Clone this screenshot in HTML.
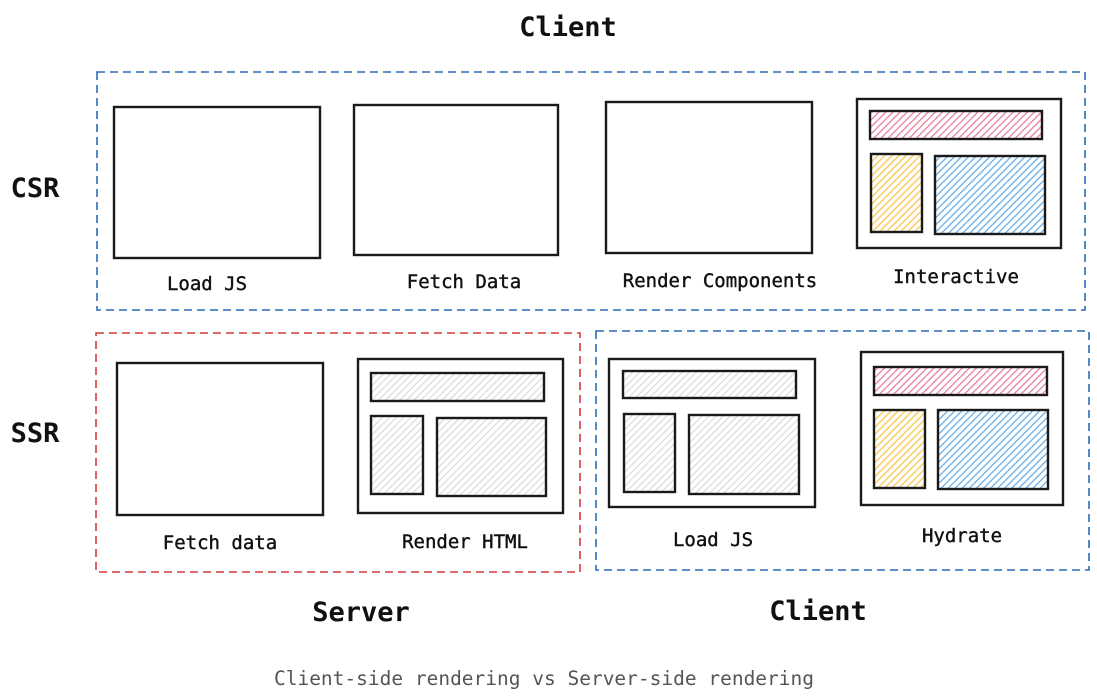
<!DOCTYPE html>
<html><head><meta charset="utf-8"><style>
html,body{margin:0;padding:0;background:#fff;}
svg{display:block;}
text{font-family:"DejaVu Sans Mono","Liberation Mono",monospace;}
</style></head><body>
<svg width="1097" height="700" viewBox="0 0 1097 700" xmlns="http://www.w3.org/2000/svg">
<defs>
<pattern id="pink" width="5" height="5" patternUnits="userSpaceOnUse" patternTransform="rotate(45)"><rect width="5" height="5" fill="#fff"/><line x1="0" y1="0" x2="0" y2="5" stroke="#e8809c" stroke-width="2.6"/></pattern>
<pattern id="yel" width="5" height="5" patternUnits="userSpaceOnUse" patternTransform="rotate(45)"><rect width="5" height="5" fill="#fff"/><line x1="0" y1="0" x2="0" y2="5" stroke="#fbc64a" stroke-width="2.6"/></pattern>
<pattern id="blu" width="5" height="5" patternUnits="userSpaceOnUse" patternTransform="rotate(45)"><rect width="5" height="5" fill="#fff"/><line x1="0" y1="0" x2="0" y2="5" stroke="#6aaee8" stroke-width="2.6"/></pattern>
<pattern id="gry" width="5" height="5" patternUnits="userSpaceOnUse" patternTransform="rotate(45)"><rect width="5" height="5" fill="#fff"/><line x1="0" y1="0" x2="0" y2="5" stroke="#d8d8dc" stroke-width="2.2"/></pattern>
</defs>
<g fill="none" stroke-width="1.6" stroke-dasharray="8 5">
<rect x="97" y="72" width="988" height="238" stroke="#2b6cb8"/>
<rect x="96" y="333" width="484" height="239" stroke="#d63a3a"/>
<rect x="596" y="331" width="493" height="239" stroke="#2b6cb8"/>
</g>
<g stroke="#1a1a1a" stroke-width="2.4" fill="#fff">
<rect x="114" y="107" width="206" height="151"/>
<rect x="354" y="105" width="204" height="150"/>
<rect x="606" y="102" width="206" height="151"/>
<rect x="857" y="99" width="204" height="149"/>
<rect x="870" y="111" width="172" height="28" fill="url(#pink)"/>
<rect x="871" y="154" width="51" height="78" fill="url(#yel)"/>
<rect x="935" y="156" width="110" height="78" fill="url(#blu)"/>
<rect x="117" y="363" width="206" height="152"/>
<rect x="358" y="359" width="205" height="154"/>
<rect x="371" y="373" width="173" height="28" fill="url(#gry)"/>
<rect x="371" y="416" width="52" height="78" fill="url(#gry)"/>
<rect x="437" y="418" width="109" height="78" fill="url(#gry)"/>
<rect x="609" y="359" width="206" height="148"/>
<rect x="623" y="371" width="173" height="27" fill="url(#gry)"/>
<rect x="624" y="414" width="51" height="78" fill="url(#gry)"/>
<rect x="689" y="415" width="110" height="79" fill="url(#gry)"/>
<rect x="861" y="352" width="202" height="153"/>
<rect x="874" y="367" width="173" height="28" fill="url(#pink)"/>
<rect x="874" y="410" width="51" height="78" fill="url(#yel)"/>
<rect x="938" y="410" width="110" height="79" fill="url(#blu)"/>
</g>
<g fill="#111" font-weight="bold" text-anchor="middle">
<text x="568" y="36" font-size="27">Client</text>
<text x="35" y="197" font-size="27">CSR</text>
<text x="35" y="442" font-size="27">SSR</text>
<text x="361" y="621" font-size="27">Server</text>
<text x="818" y="620" font-size="27">Client</text>
</g>
<g fill="#111" font-size="19" text-anchor="middle" stroke="#111" stroke-width="0.4">
<text x="207" y="290">Load JS</text>
<text x="464" y="288">Fetch Data</text>
<text x="720" y="287">Render Components</text>
<text x="956" y="283">Interactive</text>
<text x="220" y="549">Fetch data</text>
<text x="465" y="548">Render HTML</text>
<text x="713" y="546">Load JS</text>
<text x="962" y="542">Hydrate</text>
</g>
<text x="544" y="685" font-size="19.5" fill="#555" text-anchor="middle">Client-side rendering vs Server-side rendering</text>
</svg>
</body></html>
